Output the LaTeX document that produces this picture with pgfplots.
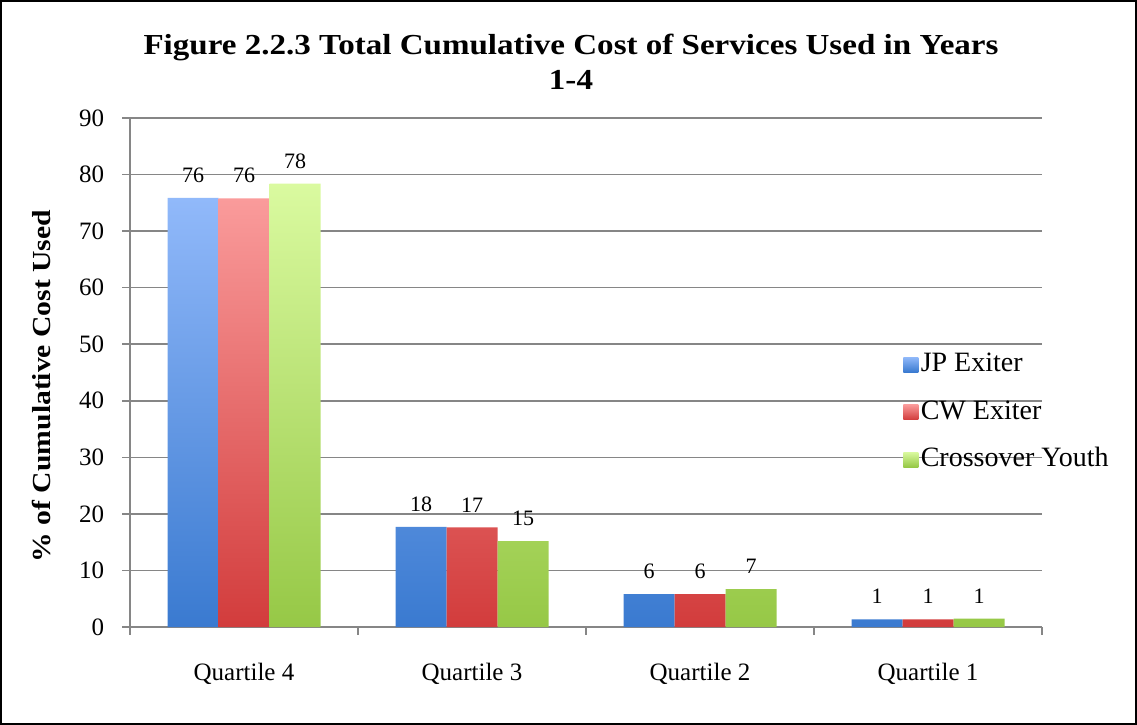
\documentclass[border=0pt]{standalone}
\usepackage{fontspec}
\setmainfont{Liberation Serif}
\newfontfamily\widefont{Liberation Serif}[FakeStretch=1.14]
\usepackage{pgfplots}
\pgfplotsset{compat=1.18}
\definecolor{axgray}{RGB}{134,134,134}
\definecolor{bluetop}{RGB}{145,185,250}
\definecolor{bluebot}{RGB}{58,122,208}
\definecolor{redtop}{RGB}{250,155,155}
\definecolor{redbot}{RGB}{210,60,60}
\definecolor{greentop}{RGB}{218,250,160}
\definecolor{greenbot}{RGB}{150,200,70}
\begin{document}
\begin{tikzpicture}
\useasboundingbox (0bp,0bp) rectangle (568.5bp,-362.5bp);
\draw[black, line width=1.2bp] (0.6bp,-0.6bp) rectangle (567.9bp,-361.9bp);
\node[font=\widefont\bfseries\fontsize{14.5bp}{17.5bp}\selectfont, align=center] at (285.5bp,-31bp) {Figure 2.2.3 Total Cumulative Cost of Services Used in Years\\1-4};
\node[font=\widefont\bfseries\fontsize{13bp}{15bp}\selectfont, rotate=90] at (21bp,-193bp) {\% of Cumulative Cost Used};
\begin{axis}[
  at={(65bp,-313.5bp)}, anchor=south west,
  scale only axis, width=456bp, height=254.5bp,
  xmin=-0.5, xmax=3.5, ymin=0, ymax=90,
  axis x line*=bottom, axis y line*=left,
  axis line style={axgray, line width=1bp, -},
  ytick={0,10,...,90},
  ymajorgrids, grid style={axgray, line width=0.75bp},
  tick style={axgray, line width=0.75bp},
  tick align=outside, major tick length=3.75bp,
  xtick={-0.5,0.5,1.5,2.5,3.5},
  x tick label as interval,
  xticklabels={Quartile 4,Quartile 3,Quartile 2,Quartile 1},
  ticklabel style={font=\fontsize{12.5bp}{15bp}\selectfont, black},
  /pgf/number format/assume math mode=true,
  yticklabel style={anchor=east, inner sep=0pt, xshift=-9bp},
  xticklabel style={anchor=north, inner sep=0pt, yshift=-14bp},
  ybar=0pt, bar width=25.5bp,
  nodes near coords, point meta=explicit symbolic,
  every node near coord/.append style={font=\fontsize{11bp}{13bp}\selectfont, black, anchor=south, inner sep=0pt, yshift=7.5bp},
  legend style={at={(0.8476,0.4224)}, anchor=west, draw=none, fill=none, inner sep=0pt,
    row sep=8.35bp, font=\fontsize{14bp}{16bp}\selectfont,
    nodes={inner sep=1.2bp, text height=10bp, text depth=3bp}},
  legend cell align=left,
  legend image code/.code={\path[#1, draw=none] (0bp,-3.75bp) rectangle (7.5bp,3.75bp);},
]
\addplot[draw=none, top color=bluetop, bottom color=bluebot] coordinates {(0,75.9)[76] (1,17.7)[18] (2,5.8)[6] (3,1.35)[1]};
\addplot[draw=none, top color=redtop, bottom color=redbot] coordinates {(0,75.8)[76] (1,17.6)[17] (2,5.8)[6] (3,1.35)[1]};
\addplot[draw=none, top color=greentop, bottom color=greenbot] coordinates {(0,78.4)[78] (1,15.2)[15] (2,6.7)[7] (3,1.5)[1]};
\legend{JP Exiter, CW Exiter, Crossover Youth}
\end{axis}
\end{tikzpicture}
\end{document}
